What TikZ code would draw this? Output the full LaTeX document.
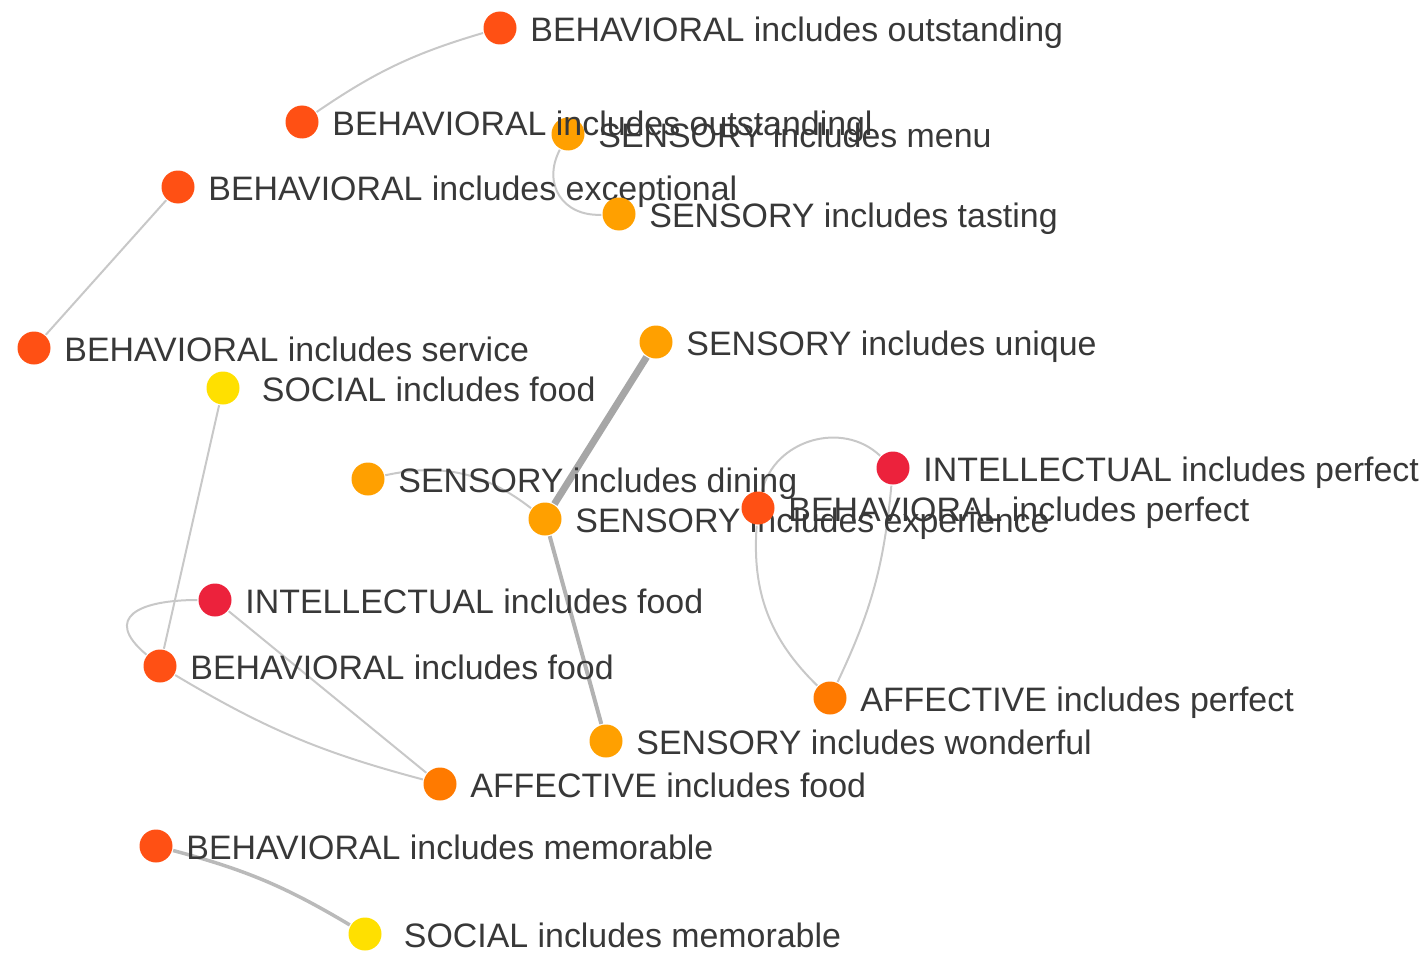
\documentclass[tikz,border=0pt]{standalone}
\usepackage{fontspec}
\setmainfont{Liberation Sans}
\usetikzlibrary{positioning,backgrounds}

\definecolor{behcol}{RGB}{255,80,20}
\definecolor{sencol}{RGB}{255,160,0}
\definecolor{soccol}{RGB}{255,224,0}
\definecolor{intcol}{RGB}{236,34,60}
\definecolor{affcol}{RGB}{255,122,0}
\definecolor{edgecol}{RGB}{200,200,200}

\begin{document}
\begin{tikzpicture}
	[x=1pt,y=1pt,
	dot/.style={circle,inner sep=0pt,minimum size=33pt},
	beh/.style={dot,fill=behcol},
	sen/.style={dot,fill=sencol},
	soc/.style={dot,fill=soccol},
	intl/.style={dot,fill=intcol},
	aff/.style={dot,fill=affcol},
	lbl/.style={inner sep=0pt,text height=24pt,text depth=0pt,text=black!78,yshift=-1.5pt,
		font=\fontsize{33.9}{40}\selectfont},
	link/.style={draw=edgecol,line width=2pt,shorten <=1pt,shorten >=1pt},
	node distance=13.5pt]
	\useasboundingbox (0,0) rectangle (1426,-955);
	%nodos
	\node[beh] (bOut) at (500,-28) {};
	\node[lbl,right=of bOut] (bOut-l) {BEHAVIORAL includes outstanding};
	\node[sen] (sMenu) at (568,-134) {};
	\node[lbl,right=of sMenu] (sMenu-l) {SENSORY includes menu};
	\node[beh] (bOutl) at (302,-122) {};
	\node[lbl,right=of bOutl] (bOutl-l) {BEHAVIORAL includes outstandingl};
	\node[beh] (bExc) at (178,-187) {};
	\node[lbl,right=of bExc] (bExc-l) {BEHAVIORAL includes exceptional};
	\node[sen] (sTast) at (619,-214) {};
	\node[lbl,right=of sTast] (sTast-l) {SENSORY includes tasting};
	\node[beh] (bServ) at (34,-348) {};
	\node[lbl,right=of bServ] (bServ-l) {BEHAVIORAL includes service};
	\node[sen] (sUniq) at (656,-342) {};
	\node[lbl,right=of sUniq] (sUniq-l) {SENSORY includes unique};
	\node[soc] (socFood) at (223,-388) {};
	\node[lbl,right=22pt of socFood] (socFood-l) {SOCIAL includes food};
	\node[sen] (sDin) at (368,-479) {};
	\node[lbl,right=of sDin] (sDin-l) {SENSORY includes dining};
	\node[sen] (sExp) at (545,-519) {};
	\node[lbl,right=of sExp] (sExp-l) {SENSORY includes experience};
	\node[intl] (iPerf) at (893,-468) {};
	\node[lbl,right=of iPerf] (iPerf-l) {INTELLECTUAL includes perfect};
	\node[beh] (bPerf) at (758,-508) {};
	\node[lbl,right=of bPerf] (bPerf-l) {BEHAVIORAL includes perfect};
	\node[intl] (iFood) at (215,-600) {};
	\node[lbl,right=of iFood] (iFood-l) {INTELLECTUAL includes food};
	\node[beh] (bFood) at (160,-666) {};
	\node[lbl,right=of bFood] (bFood-l) {BEHAVIORAL includes food};
	\node[aff] (aPerf) at (830,-698) {};
	\node[lbl,right=of aPerf] (aPerf-l) {AFFECTIVE includes perfect};
	\node[sen] (sWond) at (606,-741) {};
	\node[lbl,right=of sWond] (sWond-l) {SENSORY includes wonderful};
	\node[aff] (aFood) at (440,-784) {};
	\node[lbl,right=of aFood] (aFood-l) {AFFECTIVE includes food};
	\node[beh] (bMem) at (156,-846) {};
	\node[lbl,right=of bMem] (bMem-l) {BEHAVIORAL includes memorable};
	\node[soc] (socMem) at (365,-934) {};
	\node[lbl,right=22pt of socMem] (socMem-l) {SOCIAL includes memorable};
	%aristas
	\begin{scope}[on background layer]
		\draw[link] (bOutl) to[bend left=9] (bOut);
		\draw[link] (sMenu) to[bend right=60,looseness=1.3] (sTast);
		\draw[link] (bExc) -- (bServ);
		\draw[link,draw=black!35,line width=7pt] (sUniq) -- (sExp);
		\draw[link] (sDin) to[bend left=25] (sExp);
		\draw[link,draw=black!30,line width=4pt] (sExp) -- (sWond);
		\draw[link] (socFood) -- (bFood);
		\draw[link] (iFood) to[out=180,in=140,looseness=2] (bFood);
		\draw[link] (iFood) -- (aFood);
		\draw[link] (bFood) to[bend right=8] (aFood);
		\draw[link] (bPerf) to[bend left=60,looseness=1.1] (iPerf);
		\draw[link] (bPerf) to[bend right=25] (aPerf);
		\draw[link] (iPerf) to[bend left=10] (aPerf);
		\draw[link,draw=black!27,line width=3.5pt] (bMem) to[bend left=8] (socMem);
	\end{scope}
\end{tikzpicture}
\end{document}
